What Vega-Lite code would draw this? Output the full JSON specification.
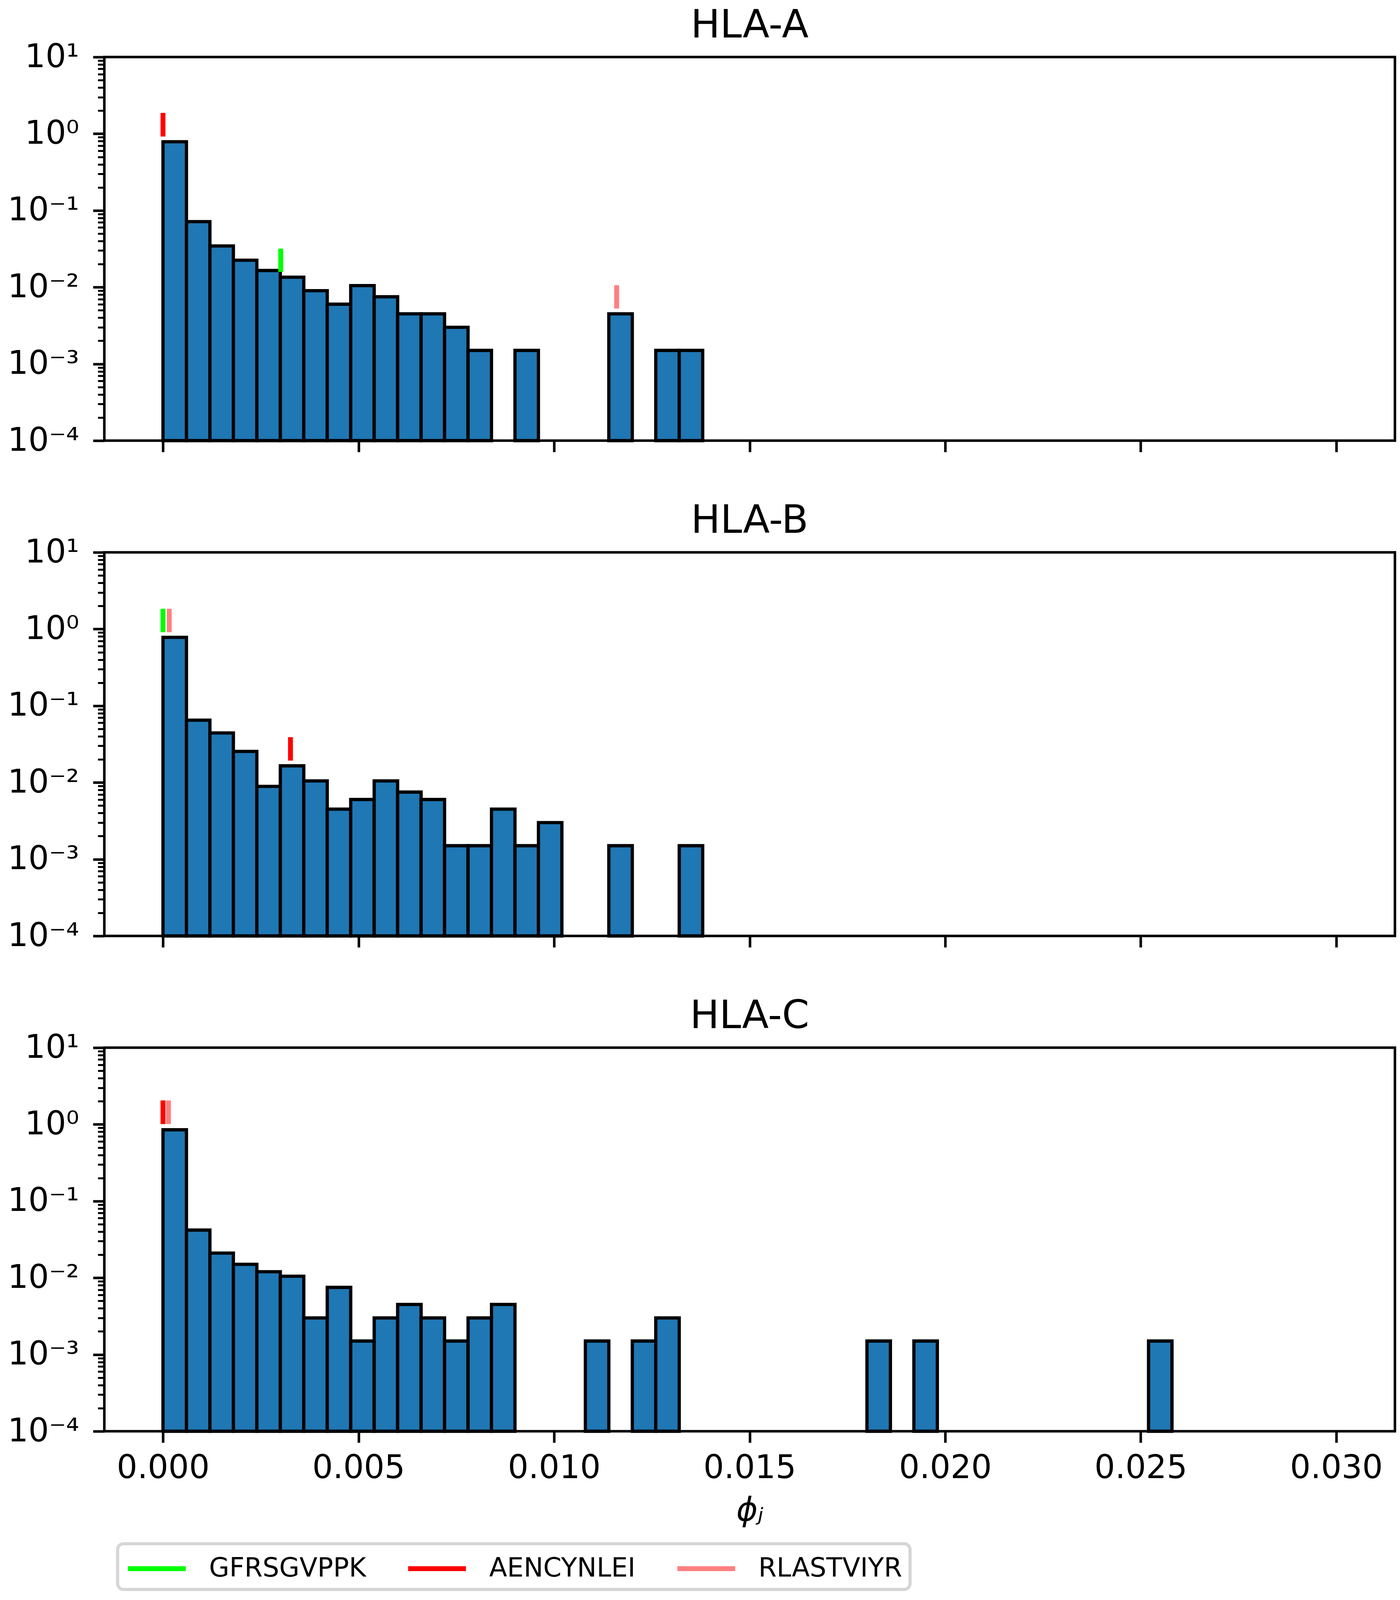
{
  "$schema": "https://vega.github.io/schema/vega-lite/v6.json",
  "background": "white",
  "padding": {"left": 16, "top": 12, "right": 14, "bottom": 10},
  "bounds": "flush",
  "spacing": 286,
  "datasets": {
    "bins": [
      {"hla": "HLA-A", "phi": 0.0, "phi2": 0.0006, "y": 0.786},
      {"hla": "HLA-A", "phi": 0.0006, "phi2": 0.0012, "y": 0.0716},
      {"hla": "HLA-A", "phi": 0.0012, "phi2": 0.0018, "y": 0.0345},
      {"hla": "HLA-A", "phi": 0.0018, "phi2": 0.0024, "y": 0.0225},
      {"hla": "HLA-A", "phi": 0.0024, "phi2": 0.003, "y": 0.0165},
      {"hla": "HLA-A", "phi": 0.003, "phi2": 0.0036, "y": 0.0135},
      {"hla": "HLA-A", "phi": 0.0036, "phi2": 0.0042, "y": 0.009},
      {"hla": "HLA-A", "phi": 0.0042, "phi2": 0.0048, "y": 0.006},
      {"hla": "HLA-A", "phi": 0.0048, "phi2": 0.0054, "y": 0.0105},
      {"hla": "HLA-A", "phi": 0.0054, "phi2": 0.006, "y": 0.0075},
      {"hla": "HLA-A", "phi": 0.006, "phi2": 0.0066, "y": 0.0045},
      {"hla": "HLA-A", "phi": 0.0066, "phi2": 0.0072, "y": 0.0045},
      {"hla": "HLA-A", "phi": 0.0072, "phi2": 0.0078, "y": 0.003},
      {"hla": "HLA-A", "phi": 0.0078, "phi2": 0.0084, "y": 0.0015},
      {"hla": "HLA-A", "phi": 0.009, "phi2": 0.0096, "y": 0.0015},
      {"hla": "HLA-A", "phi": 0.0114, "phi2": 0.012, "y": 0.0045},
      {"hla": "HLA-A", "phi": 0.0126, "phi2": 0.0132, "y": 0.0015},
      {"hla": "HLA-A", "phi": 0.0132, "phi2": 0.0138, "y": 0.0015},
      {"hla": "HLA-B", "phi": 0.0, "phi2": 0.0006, "y": 0.78},
      {"hla": "HLA-B", "phi": 0.0006, "phi2": 0.0012, "y": 0.065},
      {"hla": "HLA-B", "phi": 0.0012, "phi2": 0.0018, "y": 0.0442},
      {"hla": "HLA-B", "phi": 0.0018, "phi2": 0.0024, "y": 0.0254},
      {"hla": "HLA-B", "phi": 0.0024, "phi2": 0.003, "y": 0.0089},
      {"hla": "HLA-B", "phi": 0.003, "phi2": 0.0036, "y": 0.0165},
      {"hla": "HLA-B", "phi": 0.0036, "phi2": 0.0042, "y": 0.0105},
      {"hla": "HLA-B", "phi": 0.0042, "phi2": 0.0048, "y": 0.0045},
      {"hla": "HLA-B", "phi": 0.0048, "phi2": 0.0054, "y": 0.006},
      {"hla": "HLA-B", "phi": 0.0054, "phi2": 0.006, "y": 0.0105},
      {"hla": "HLA-B", "phi": 0.006, "phi2": 0.0066, "y": 0.0075},
      {"hla": "HLA-B", "phi": 0.0066, "phi2": 0.0072, "y": 0.006},
      {"hla": "HLA-B", "phi": 0.0072, "phi2": 0.0078, "y": 0.0015},
      {"hla": "HLA-B", "phi": 0.0078, "phi2": 0.0084, "y": 0.0015},
      {"hla": "HLA-B", "phi": 0.0084, "phi2": 0.009, "y": 0.0045},
      {"hla": "HLA-B", "phi": 0.009, "phi2": 0.0096, "y": 0.0015},
      {"hla": "HLA-B", "phi": 0.0096, "phi2": 0.0102, "y": 0.003},
      {"hla": "HLA-B", "phi": 0.0114, "phi2": 0.012, "y": 0.0015},
      {"hla": "HLA-B", "phi": 0.0132, "phi2": 0.0138, "y": 0.0015},
      {"hla": "HLA-C", "phi": 0.0, "phi2": 0.0006, "y": 0.85},
      {"hla": "HLA-C", "phi": 0.0006, "phi2": 0.0012, "y": 0.0419},
      {"hla": "HLA-C", "phi": 0.0012, "phi2": 0.0018, "y": 0.021},
      {"hla": "HLA-C", "phi": 0.0018, "phi2": 0.0024, "y": 0.015},
      {"hla": "HLA-C", "phi": 0.0024, "phi2": 0.003, "y": 0.012},
      {"hla": "HLA-C", "phi": 0.003, "phi2": 0.0036, "y": 0.0105},
      {"hla": "HLA-C", "phi": 0.0036, "phi2": 0.0042, "y": 0.003},
      {"hla": "HLA-C", "phi": 0.0042, "phi2": 0.0048, "y": 0.0075},
      {"hla": "HLA-C", "phi": 0.0048, "phi2": 0.0054, "y": 0.0015},
      {"hla": "HLA-C", "phi": 0.0054, "phi2": 0.006, "y": 0.003},
      {"hla": "HLA-C", "phi": 0.006, "phi2": 0.0066, "y": 0.0045},
      {"hla": "HLA-C", "phi": 0.0066, "phi2": 0.0072, "y": 0.003},
      {"hla": "HLA-C", "phi": 0.0072, "phi2": 0.0078, "y": 0.0015},
      {"hla": "HLA-C", "phi": 0.0078, "phi2": 0.0084, "y": 0.003},
      {"hla": "HLA-C", "phi": 0.0084, "phi2": 0.009, "y": 0.0045},
      {"hla": "HLA-C", "phi": 0.0108, "phi2": 0.0114, "y": 0.0015},
      {"hla": "HLA-C", "phi": 0.012, "phi2": 0.0126, "y": 0.0015},
      {"hla": "HLA-C", "phi": 0.0126, "phi2": 0.0132, "y": 0.003},
      {"hla": "HLA-C", "phi": 0.018, "phi2": 0.0186, "y": 0.0015},
      {"hla": "HLA-C", "phi": 0.0192, "phi2": 0.0198, "y": 0.0015},
      {"hla": "HLA-C", "phi": 0.0252, "phi2": 0.0258, "y": 0.0015}
    ],
    "peptides": [
      {"hla": "HLA-A", "peptide": "AENCYNLEI", "phi": 0.0, "y": 0.92, "y2": 1.87},
      {"hla": "HLA-A", "peptide": "GFRSGVPPK", "phi": 0.00301, "y": 0.0158, "y2": 0.0318},
      {"hla": "HLA-A", "peptide": "RLASTVIYR", "phi": 0.0116, "y": 0.00527, "y2": 0.0106},
      {"hla": "HLA-B", "peptide": "GFRSGVPPK", "phi": 0.0, "y": 0.91, "y2": 1.84},
      {"hla": "HLA-B", "peptide": "RLASTVIYR", "phi": 0.00016, "y": 0.91, "y2": 1.84},
      {"hla": "HLA-B", "peptide": "AENCYNLEI", "phi": 0.00326, "y": 0.0193, "y2": 0.039},
      {"hla": "HLA-C", "peptide": "GFRSGVPPK", "phi": 0.0, "y": 1.01, "y2": 2.05},
      {"hla": "HLA-C", "peptide": "AENCYNLEI", "phi": 0.0, "y": 1.01, "y2": 2.05},
      {"hla": "HLA-C", "peptide": "RLASTVIYR", "phi": 0.00014, "y": 1.01, "y2": 2.05}
    ]
  },
  "vconcat": [
    {
      "title": "HLA-A",
      "width": 3303,
      "height": 982,
      "encoding": {
        "x": {
          "field": "phi", "type": "quantitative",
          "scale": {"domain": [-0.0015, 0.0315], "nice": false, "zero": false},
          "axis": {"values": [0, 0.005, 0.01, 0.015, 0.02, 0.025, 0.03], "labels": false, "title": null}
        },
        "y": {
          "field": "y", "type": "quantitative",
          "scale": {"type": "log", "domain": [0.0001, 10], "nice": false},
          "axis": {
            "title": null,
            "values": [0.0001,0.0002,0.0003,0.0004,0.0005,0.0006,0.0007,0.0008,0.0009,0.001,0.002,0.003,0.004,0.005,0.006,0.007,0.008,0.009,0.01,0.02,0.03,0.04,0.05,0.06,0.07,0.08,0.09,0.1,0.2,0.3,0.4,0.5,0.6,0.7,0.8,0.9,1,2,3,4,5,6,7,8,9,10],
            "labelExpr": "abs(log(datum.value)/LN10 - round(log(datum.value)/LN10)) < 0.01 ? '10' + replace(replace(replace(replace(replace(replace('' + round(log(datum.value)/LN10), '-', '⁻'), '0', '⁰'), '1', '¹'), '2', '²'), '3', '³'), '4', '⁴') : ''",
            "tickSize": {"condition": {"test": "abs(log(datum.value)/LN10 - round(log(datum.value)/LN10)) < 0.01", "value": 29}, "value": 16.7},
            "tickWidth": {"condition": {"test": "abs(log(datum.value)/LN10 - round(log(datum.value)/LN10)) < 0.01", "value": 6.5}, "value": 5},
            "labelPadding": 36,
            "labelOverlap": false,
            "labelBound": false
          }
        }
      },
      "layer": [
        {
          "data": {"name": "bins"},
          "transform": [{"filter": "datum.hla == 'HLA-A'"}],
          "mark": {"type": "rect", "fill": "#1f77b4", "stroke": "black", "strokeWidth": 8.3},
          "encoding": {"x2": {"field": "phi2"}, "y2": {"datum": 0.0001}}
        },
        {
          "data": {"name": "peptides"},
          "transform": [{"filter": "datum.hla == 'HLA-A'"}],
          "mark": {"type": "rule", "strokeWidth": 12.5},
          "encoding": {
            "y2": {"field": "y2"},
            "color": {
              "field": "peptide", "type": "nominal",
              "scale": {"domain": ["GFRSGVPPK", "AENCYNLEI", "RLASTVIYR"], "range": ["#00ff00", "#ff0000", "#ff8080"]},
              "legend": {"title": null}
            }
          }
        }
      ]
    },
    {
      "title": "HLA-B",
      "width": 3303,
      "height": 982,
      "encoding": {
        "x": {
          "field": "phi", "type": "quantitative",
          "scale": {"domain": [-0.0015, 0.0315], "nice": false, "zero": false},
          "axis": {"values": [0, 0.005, 0.01, 0.015, 0.02, 0.025, 0.03], "labels": false, "title": null}
        },
        "y": {
          "field": "y", "type": "quantitative",
          "scale": {"type": "log", "domain": [0.0001, 10], "nice": false},
          "axis": {
            "title": null,
            "values": [0.0001,0.0002,0.0003,0.0004,0.0005,0.0006,0.0007,0.0008,0.0009,0.001,0.002,0.003,0.004,0.005,0.006,0.007,0.008,0.009,0.01,0.02,0.03,0.04,0.05,0.06,0.07,0.08,0.09,0.1,0.2,0.3,0.4,0.5,0.6,0.7,0.8,0.9,1,2,3,4,5,6,7,8,9,10],
            "labelExpr": "abs(log(datum.value)/LN10 - round(log(datum.value)/LN10)) < 0.01 ? '10' + replace(replace(replace(replace(replace(replace('' + round(log(datum.value)/LN10), '-', '⁻'), '0', '⁰'), '1', '¹'), '2', '²'), '3', '³'), '4', '⁴') : ''",
            "tickSize": {"condition": {"test": "abs(log(datum.value)/LN10 - round(log(datum.value)/LN10)) < 0.01", "value": 29}, "value": 16.7},
            "tickWidth": {"condition": {"test": "abs(log(datum.value)/LN10 - round(log(datum.value)/LN10)) < 0.01", "value": 6.5}, "value": 5},
            "labelPadding": 36,
            "labelOverlap": false,
            "labelBound": false
          }
        }
      },
      "layer": [
        {
          "data": {"name": "bins"},
          "transform": [{"filter": "datum.hla == 'HLA-B'"}],
          "mark": {"type": "rect", "fill": "#1f77b4", "stroke": "black", "strokeWidth": 8.3},
          "encoding": {"x2": {"field": "phi2"}, "y2": {"datum": 0.0001}}
        },
        {
          "data": {"name": "peptides"},
          "transform": [{"filter": "datum.hla == 'HLA-B'"}],
          "mark": {"type": "rule", "strokeWidth": 12.5},
          "encoding": {
            "y2": {"field": "y2"},
            "color": {
              "field": "peptide", "type": "nominal",
              "scale": {"domain": ["GFRSGVPPK", "AENCYNLEI", "RLASTVIYR"], "range": ["#00ff00", "#ff0000", "#ff8080"]},
              "legend": {"title": null}
            }
          }
        }
      ]
    },
    {
      "title": "HLA-C",
      "width": 3303,
      "height": 982,
      "encoding": {
        "x": {
          "field": "phi", "type": "quantitative",
          "scale": {"domain": [-0.0015, 0.0315], "nice": false, "zero": false},
          "axis": {
            "values": [0, 0.005, 0.01, 0.015, 0.02, 0.025, 0.03],
            "format": ".3f",
            "labelPadding": 24,
            "title": "ϕⱼ",
            "titleFontStyle": "italic",
            "titleFontSize": 83,
            "titleFontWeight": "normal",
            "titlePadding": 26
          }
        },
        "y": {
          "field": "y", "type": "quantitative",
          "scale": {"type": "log", "domain": [0.0001, 10], "nice": false},
          "axis": {
            "title": null,
            "values": [0.0001,0.0002,0.0003,0.0004,0.0005,0.0006,0.0007,0.0008,0.0009,0.001,0.002,0.003,0.004,0.005,0.006,0.007,0.008,0.009,0.01,0.02,0.03,0.04,0.05,0.06,0.07,0.08,0.09,0.1,0.2,0.3,0.4,0.5,0.6,0.7,0.8,0.9,1,2,3,4,5,6,7,8,9,10],
            "labelExpr": "abs(log(datum.value)/LN10 - round(log(datum.value)/LN10)) < 0.01 ? '10' + replace(replace(replace(replace(replace(replace('' + round(log(datum.value)/LN10), '-', '⁻'), '0', '⁰'), '1', '¹'), '2', '²'), '3', '³'), '4', '⁴') : ''",
            "tickSize": {"condition": {"test": "abs(log(datum.value)/LN10 - round(log(datum.value)/LN10)) < 0.01", "value": 29}, "value": 16.7},
            "tickWidth": {"condition": {"test": "abs(log(datum.value)/LN10 - round(log(datum.value)/LN10)) < 0.01", "value": 6.5}, "value": 5},
            "labelPadding": 36,
            "labelOverlap": false,
            "labelBound": false
          }
        }
      },
      "layer": [
        {
          "data": {"name": "bins"},
          "transform": [{"filter": "datum.hla == 'HLA-C'"}],
          "mark": {"type": "rect", "fill": "#1f77b4", "stroke": "black", "strokeWidth": 8.3},
          "encoding": {"x2": {"field": "phi2"}, "y2": {"datum": 0.0001}}
        },
        {
          "data": {"name": "peptides"},
          "transform": [{"filter": "datum.hla == 'HLA-C'"}],
          "mark": {"type": "rule", "strokeWidth": 12.5},
          "encoding": {
            "y2": {"field": "y2"},
            "color": {
              "field": "peptide", "type": "nominal",
              "scale": {"domain": ["GFRSGVPPK", "AENCYNLEI", "RLASTVIYR"], "range": ["#00ff00", "#ff0000", "#ff8080"]},
              "legend": {"title": null}
            }
          }
        }
      ]
    }
  ],
  "config": {
    "font": "DejaVu Sans",
    "view": {"stroke": "black", "strokeWidth": 6.5},
    "axis": {
      "domain": false,
      "grid": false,
      "tickColor": "black",
      "tickSize": 29,
      "tickWidth": 6.5,
      "labelColor": "black",
      "labelFont": "DejaVu Sans",
      "labelFontSize": 83,
      "labelLimit": 1000,
      "titleFont": "DejaVu Sans",
      "titleColor": "black"
    },
    "title": {
      "font": "DejaVu Sans",
      "fontSize": 100,
      "fontWeight": "normal",
      "color": "black",
      "anchor": "middle",
      "frame": "group",
      "baseline": "alphabetic",
      "offset": -12
    },
    "legend": {
      "orient": "none",
      "legendX": 34,
      "legendY": 3806,
      "direction": "horizontal",
      "columns": 3,
      "symbolType": "M-1,0H3",
      "symbolSize": 5476,
      "symbolStrokeWidth": 12.5,
      "labelFont": "DejaVu Sans",
      "labelFontSize": 67,
      "labelColor": "black",
      "labelLimit": 2000,
      "labelOffset": 127,
      "columnPadding": 81,
      "padding": 20,
      "strokeColor": "#d6d6d6",
      "strokeWidth": 8,
      "fillColor": "white",
      "cornerRadius": 15
    }
  }
}
